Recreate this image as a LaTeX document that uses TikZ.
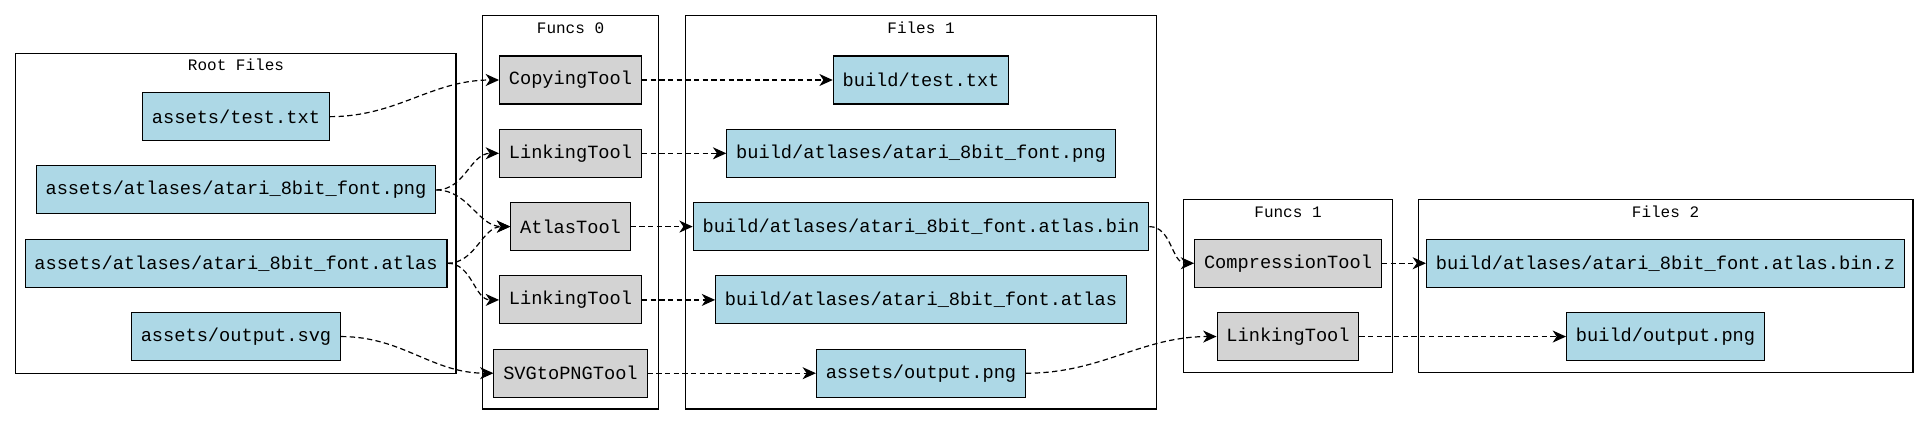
\documentclass[tikz,border=0pt]{standalone}
\usepackage{fontspec}
\setmonofont{Liberation Mono}
\usepackage{xcolor}
\usetikzlibrary{arrows.meta}

\definecolor{fileblue}{HTML}{ADD8E6}
\definecolor{toolgray}{HTML}{D3D3D3}

\tikzset{
  box/.style={draw, line width=0.8pt, minimum height=36pt, inner xsep=7pt,
    inner ysep=0pt, font=\ttfamily\fontsize{14}{14}\selectfont},
  filebox/.style={box, fill=fileblue},
  toolbox/.style={box, fill=toolgray},
  cluster/.style={draw, line width=0.8pt},
  clustertitle/.style={anchor=base, inner sep=0pt,
    font=\ttfamily\fontsize{12}{12}\selectfont},
  dep/.style={line width=0.9pt, dash pattern=on 4pt off 2.5pt,
    -{Stealth[length=10pt, width=9pt, inset=3pt]}}
}

\begin{document}
\begin{tikzpicture}[x=0.75pt, y=-0.75pt]

\useasboundingbox (0,0) rectangle (1929,425);

\def\rowy{80}   % first row
\def\rowsep{73.3} % row pitch

% clusters
\draw[cluster] (15.7,53.3) rectangle (456,373.3);
\node[clustertitle] (trf) at (236,70.5) {Root Files};
\draw[cluster] (482.5,15.7) rectangle (658.4,409);
\node[clustertitle] (tf0) at (570.5,33.7) {Funcs 0};
\draw[cluster] (685.2,15.7) rectangle (1156.6,409);
\node[clustertitle] (tfi1) at (921,33.7) {Files 1};
\draw[cluster] (1183.6,199.3) rectangle (1392.2,372.7);
\node[clustertitle] (tf1) at (1288,217.5) {Funcs 1};
\draw[cluster] (1418.3,199.3) rectangle (1913,372.7);
\node[clustertitle] (tfi2) at (1665.5,217.5) {Files 2};

% root files
\foreach \name/\txt/\k in {atest/{assets/test.txt}/0.5,
    apng/{assets/atlases/atari\_8bit\_font.png}/1.5,
    aatlas/{assets/atlases/atari\_8bit\_font.atlas}/2.5,
    asvg/{assets/output.svg}/3.5} {
  \node[filebox] (\name) at (236, \rowy+\k*\rowsep) {\txt};
}

% funcs 0
\foreach \name/\txt/\k in {cp/CopyingTool/0, lk1/LinkingTool/1,
    atl/AtlasTool/2, lk2/LinkingTool/3, svg/SVGtoPNGTool/4} {
  \node[toolbox] (\name) at (570.5, \rowy+\k*\rowsep) {\txt};
}

% files 1
\foreach \name/\txt/\k in {btest/{build/test.txt}/0,
    bpng/{build/atlases/atari\_8bit\_font.png}/1,
    bbin/{build/atlases/atari\_8bit\_font.atlas.bin}/2,
    batlas/{build/atlases/atari\_8bit\_font.atlas}/3,
    opng/{assets/output.png}/4} {
  \node[filebox] (\name) at (921, \rowy+\k*\rowsep) {\txt};
}

% funcs 1
\node[toolbox] (comp) at (1288, \rowy+2.5*\rowsep) {CompressionTool};
\node[toolbox] (lk3) at (1288, \rowy+3.5*\rowsep) {LinkingTool};

% files 2
\node[filebox] (binz) at (1665.5, \rowy+2.5*\rowsep)
  {build/atlases/atari\_8bit\_font.atlas.bin.z};
\node[filebox] (bout) at (1665.5, \rowy+3.5*\rowsep) {build/output.png};

% edges
\draw[dep] (atest.east) to[out=0, in=180] (cp.west);
\draw[dep] (apng.east) to[out=0, in=180] (lk1.west);
\draw[dep] (apng.east) to[out=0, in=180] (atl.west);
\draw[dep] (aatlas.east) to[out=0, in=180] (atl.west);
\draw[dep] (aatlas.east) to[out=0, in=180] (lk2.west);
\draw[dep] (asvg.east) to[out=0, in=180] (svg.west);

\foreach \a/\b in {cp/btest, lk1/bpng, atl/bbin, lk2/batlas, svg/opng,
    comp/binz, lk3/bout} {
  \draw[dep] (\a) -- (\b);
}

\draw[dep] (bbin.east) to[out=0, in=180] (comp.west);
\draw[dep] (opng.east) to[out=0, in=180] (lk3.west);

\end{tikzpicture}
\end{document}
